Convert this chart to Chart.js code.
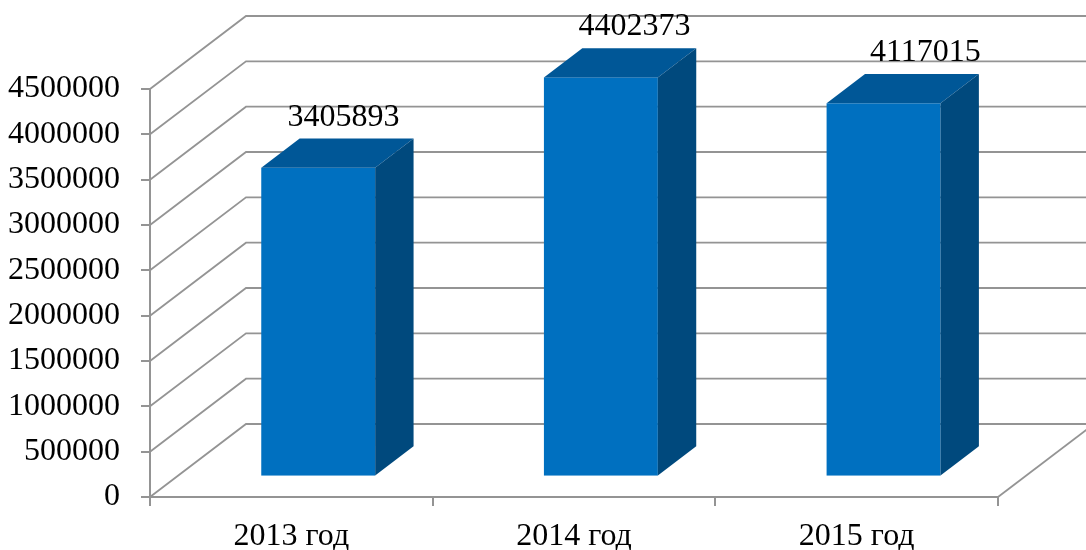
<!DOCTYPE html>
<html lang="ru">
<head>
<meta charset="UTF-8" />
<title>2013–2015</title>
<script src="https://cdn.jsdelivr.net/npm/chart.js@4.4.0/dist/chart.umd.min.js"></script>
<style>
  html, body { margin: 0; padding: 0; background: #fff; }
  #wrap { width: 1086px; height: 550px; }
</style>
</head>
<body>
<div id="wrap"><canvas id="chart" width="1086" height="550"></canvas></div>
<script>
// data
const categories = ["2013 год", "2014 год", "2015 год"];
const values = [3405893, 4402373, 4117015];
const yMax = 4500000;
const yStep = 500000;

// look of the 3d box
const GRID = "#949494";
const FRONT = "#0070C0";
const TOP = "#005797";
const SIDE = "#00497D";
const DX = 96, DY = -73;      // full depth of the floor / walls
const F1 = 0.28, F2 = 0.68;   // bar front and back as a share of depth
const FONT = "32px 'Liberation Serif', 'Times New Roman', serif";

const box3d = {
  id: "box3d",
  beforeDatasetsDraw(chart) {
    const { ctx, chartArea: a, scales: { y } } = chart;
    ctx.save();
    ctx.strokeStyle = GRID;
    ctx.lineWidth = 1.8;
    // side wall + back wall lines
    y.ticks.forEach((t) => {
      const py = y.getPixelForValue(t.value);
      ctx.beginPath();
      ctx.moveTo(a.left, py);
      ctx.lineTo(a.left + DX, py + DY);
      ctx.lineTo(a.right + DX, py + DY);
      ctx.stroke();
    });
    // right edge of the floor
    ctx.beginPath();
    ctx.moveTo(a.right, a.bottom);
    ctx.lineTo(a.right + DX, a.bottom + DY);
    ctx.stroke();
    ctx.restore();
  },
  afterDatasetsDraw(chart) {
    const { ctx, chartArea: a } = chart;
    const meta = chart.getDatasetMeta(0);
    const fx = DX * F1, fy = DY * F1;
    const bx = DX * (F2 - F1), by = DY * (F2 - F1);
    ctx.save();
    meta.data.forEach((bar, i) => {
      const half = bar.width / 2;
      const l = bar.x - half + fx, r = bar.x + half + fx;
      const t = bar.y + fy, b = bar.base + fy;

      ctx.fillStyle = FRONT;
      ctx.fillRect(l, t, r - l, b - t);

      ctx.fillStyle = TOP;
      ctx.beginPath();
      ctx.moveTo(l, t);
      ctx.lineTo(l + bx, t + by);
      ctx.lineTo(r + bx, t + by);
      ctx.lineTo(r, t);
      ctx.closePath();
      ctx.fill();

      ctx.fillStyle = SIDE;
      ctx.beginPath();
      ctx.moveTo(r, t);
      ctx.lineTo(r + bx, t + by);
      ctx.lineTo(r + bx, b + by);
      ctx.lineTo(r, b);
      ctx.closePath();
      ctx.fill();

      // value label, nudged right a bit more the further right the bar is
      const frac = (bar.x - a.left) / (a.right - a.left);
      ctx.fillStyle = "#000";
      ctx.font = FONT;
      ctx.textAlign = "center";
      ctx.textBaseline = "alphabetic";
      ctx.fillText(String(values[i]), bar.x + fx + 21 + 25 * frac, t + by - 13);
    });
    ctx.restore();
  }
};

Chart.defaults.font.family = "'Liberation Serif', 'Times New Roman', serif";
Chart.defaults.font.size = 32;
Chart.defaults.color = "#000";

const chart = new Chart(document.getElementById("chart"), {
  type: "bar",
  data: {
    labels: categories,
    datasets: [{
      data: values,
      backgroundColor: "rgba(0,0,0,0)",
      borderWidth: 0,
      categoryPercentage: 1,
      barPercentage: 0.403
    }]
  },
  options: {
    responsive: false,
    animation: false,
    layout: { padding: { top: 89, right: 88, left: 0, bottom: 0 } },
    plugins: { legend: { display: false }, tooltip: { enabled: false } },
    scales: {
      x: {
        grid: { drawOnChartArea: false, tickLength: 9, color: GRID, lineWidth: 2 },
        border: { color: GRID, width: 2 },
        ticks: { padding: 11 },
        afterFit: (s) => { s.height = 53; }
      },
      y: {
        min: 0,
        max: yMax,
        grid: { drawOnChartArea: false, tickLength: 9, color: GRID, lineWidth: 2 },
        border: { color: GRID, width: 2 },
        ticks: { stepSize: yStep, padding: 21, callback: (v) => String(v) },
        afterFit: (s) => { s.width = 150; }
      }
    }
  },
  plugins: [box3d]
});
</script>
</body>
</html>
